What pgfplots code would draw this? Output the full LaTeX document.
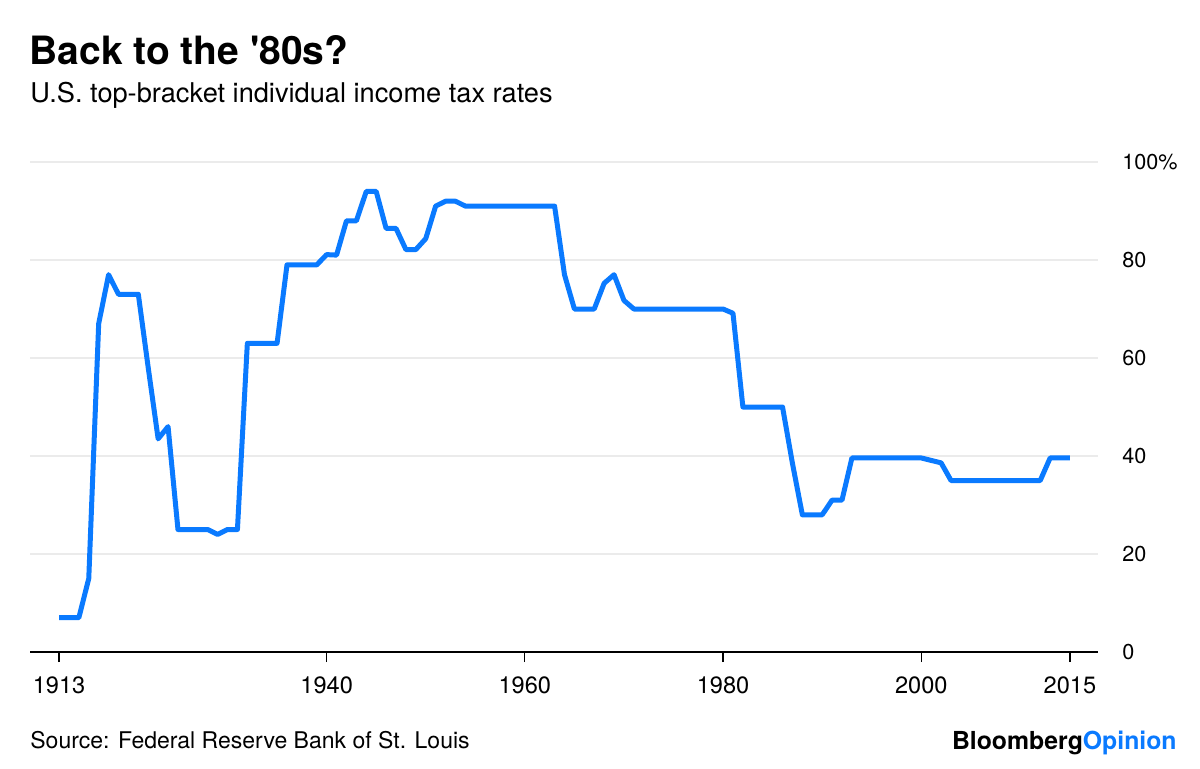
\documentclass[border=0pt]{standalone}
\usepackage{pgfplots}
\pgfplotsset{compat=1.18}
\usepackage{fontspec}
\setmainfont{TeX Gyre Heros}
\definecolor{lineblue}{HTML}{0A7AFF}
\definecolor{gridgray}{HTML}{EBEBEB}
\begin{document}
\begin{tikzpicture}
\path[use as bounding box] (0pt,0pt) rectangle (600pt,384pt);
\node[anchor=base west, inner sep=0pt, font=\fontsize{19.5pt}{24pt}\selectfont\bfseries] at (14.5pt,352pt) {Back to the \textquotesingle80s?};
\node[anchor=base west, inner sep=0pt, font=\fontsize{13.6pt}{16pt}\selectfont] at (15pt,333pt) {U.S. top-bracket individual income tax rates};
\node[anchor=base west, inner sep=0pt, font=\fontsize{11.5pt}{13pt}\selectfont] at (15pt,10pt) {Source: Federal Reserve Bank of St. Louis};
\node[anchor=base east, inner sep=0pt, font=\fontsize{12.4pt}{14pt}\selectfont\bfseries] at (588.5pt,9.5pt) {Bloomberg\textcolor{lineblue}{Opinion}};
\begin{axis}[
  at={(15pt,58pt)}, anchor=south west,
  scale only axis, width=534pt, height=245pt,
  xmin=1910.07, xmax=2017.83, ymin=0, ymax=100,
  axis x line*=bottom, axis y line*=right,
  x axis line style={black, line width=0.75pt, -},
  y axis line style={draw=none},
  xtick={1913,1940,1960,1980,2000,2015},
  xticklabels={1913,1940,1960,1980,2000,2015},
  x tick label style={font=\fontsize{11.8pt}{13pt}\selectfont, yshift=-4pt},
  xtick style={black, line width=0.6pt},
  tick align=outside, major tick length=5pt,
  ytick={0,20,40,60,80,100},
  yticklabels={0,20,40,60,80,100\%},
  ytick style={draw=none},
  ymajorgrids, major grid style={gridgray, line width=1pt},
  yticklabel style={anchor=west, inner sep=0pt, xshift=7pt, font=\fontsize{10.8pt}{13pt}\selectfont},
  clip=false,
]
\addplot[lineblue, line width=2.5pt, line join=round] coordinates {
(1913,7) (1914,7) (1915,7) (1916,15) (1917,67) (1918,77) (1919,73) (1920,73) (1921,73)
(1922,58) (1923,43.5) (1924,46) (1925,25) (1926,25) (1927,25) (1928,25) (1929,24)
(1930,25) (1931,25) (1932,63) (1933,63) (1934,63) (1935,63) (1936,79) (1937,79)
(1938,79) (1939,79) (1940,81.1) (1941,81) (1942,88) (1943,88) (1944,94) (1945,94)
(1946,86.45) (1947,86.45) (1948,82.13) (1949,82.13) (1950,84.36) (1951,91) (1952,92)
(1953,92) (1954,91) (1955,91) (1956,91) (1957,91) (1958,91) (1959,91) (1960,91)
(1961,91) (1962,91) (1963,91) (1964,77) (1965,70) (1966,70) (1967,70) (1968,75.25)
(1969,77) (1970,71.75) (1971,70) (1972,70) (1973,70) (1974,70) (1975,70) (1976,70)
(1977,70) (1978,70) (1979,70) (1980,70) (1981,69.13) (1982,50) (1983,50) (1984,50)
(1985,50) (1986,50) (1987,38.5) (1988,28) (1989,28) (1990,28) (1991,31) (1992,31)
(1993,39.6) (1994,39.6) (1995,39.6) (1996,39.6) (1997,39.6) (1998,39.6) (1999,39.6)
(2000,39.6) (2001,39.1) (2002,38.6) (2003,35) (2004,35) (2005,35) (2006,35) (2007,35)
(2008,35) (2009,35) (2010,35) (2011,35) (2012,35) (2013,39.6) (2014,39.6) (2015,39.6)
};
\end{axis}
\end{tikzpicture}
\end{document}
